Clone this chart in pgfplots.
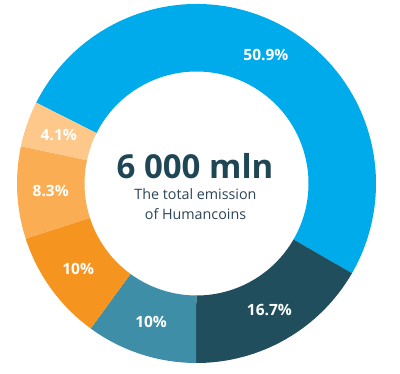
\documentclass[border=0pt]{standalone}
\usepackage{pgfplots}
\pgfplotsset{compat=1.18}
\usepackage{pgfplotstable}
\usepackage{fontspec}
\setmainfont{Open Sans}
\definecolor{cBlue}{HTML}{00ABEB}
\definecolor{cDark}{HTML}{214E5C}
\definecolor{cTeal}{HTML}{3D8EA6}
\definecolor{cOrange}{HTML}{F5951F}
\definecolor{cLight}{HTML}{FBAD54}
\definecolor{cPale}{HTML}{FDC88A}
\definecolor{cTitle}{HTML}{1E4655}
\definecolor{cSub}{HTML}{2B4456}
\pgfplotstableread{
share color
50.9 cBlue
16.7 cDark
10 cTeal
10 cOrange
8.3 cLight
4.1 cPale
}\donut
\begin{document}
\begin{tikzpicture}
\begin{axis}[scale only axis, width=400bp, height=374bp,
  xmin=-196.5, xmax=203.5, ymin=-190.5, ymax=183.5,
  hide axis, clip=false]
\addplot[draw=none] coordinates {(-196.5,-190.5) (203.5,183.5)};
\pgfplotstablegetrowsof{\donut}\pgfmathtruncatemacro\N{\pgfplotsretval-1}
\def\cur{153.24}
\pgfplotsforeachungrouped \i in {0,...,\N}{%
  \pgfplotstablegetelem{\i}{share}\of\donut \let\val\pgfplotsretval
  \pgfplotstablegetelem{\i}{color}\of\donut \let\col\pgfplotsretval
  \pgfmathsetmacro\sweep{3.6*\val}%
  \pgfmathsetmacro\en{\cur-\sweep}%
  \pgfmathsetmacro\md{\cur-\sweep/2}%
  \pgfmathsetmacro\lx{146*cos(\md)}%
  \pgfmathsetmacro\ly{146*sin(\md)}%
  \pgfmathsetmacro\ox{179.5*cos(\cur)}%
  \pgfmathsetmacro\oy{179.5*sin(\cur)}%
  \pgfmathsetmacro\ix{112*cos(\en)}%
  \pgfmathsetmacro\iy{112*sin(\en)}%
  \edef\tmp{\noexpand\fill[\col, overlay] (axis cs:\ox,\oy) arc[start angle=\cur, end angle=\en, radius=179.5bp] -- (axis cs:\ix,\iy) arc[start angle=\en, end angle=\cur, radius=112bp] -- cycle;
  \noexpand\node[text=white, font=\noexpand\fontsize{15.5bp}{18bp}\noexpand\selectfont\noexpand\bfseries] at (axis cs:\lx,\ly) {\val\noexpand\%};}%
  \tmp
  \let\cur\en
}
\node[anchor=base, text=cTitle, font=\fontsize{33bp}{36bp}\selectfont\bfseries] at (axis cs:-1.5,4.5) {6 000 mln};
\node[anchor=base, text=cSub, font=\fontsize{14.3bp}{17bp}\selectfont] at (axis cs:-1,-16.5) {The total emission};
\node[anchor=base, text=cSub, font=\fontsize{14.3bp}{17bp}\selectfont] at (axis cs:-1,-36.5) {of Humancoins};
\end{axis}
\end{tikzpicture}
\end{document}
